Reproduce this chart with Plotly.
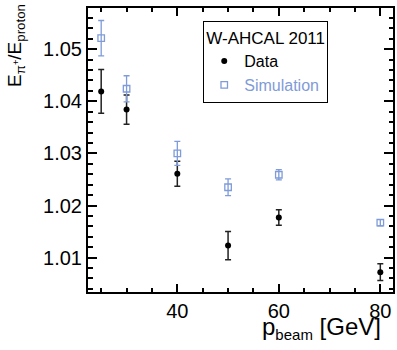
import plotly.graph_objects as go

# ---- data ----
beam_energy = [25, 30, 40, 50, 60, 80]
data_ratio = [1.0419, 1.0384, 1.0261, 1.0123, 1.0177, 1.0072]
data_err = [0.0042, 0.0028, 0.0024, 0.0027, 0.0015, 0.0016]
sim_ratio = [1.0521, 1.0424, 1.0300, 1.0235, 1.0259, 1.0167]
sim_err = [0.0034, 0.0025, 0.0023, 0.0016, 0.0010, 0.0006]
legend_title = "W-AHCAL 2011"
series_names = ["Data", "Simulation"]

FONT = "Liberation Sans, Arial, sans-serif"
SIM_COLOR = "#7f9bd8"

W, H = 397, 350
L, R, T, B = 88, 2, 8, 58
pw, ph = W - L - R, H - T - B


def px_x(p):
    return (p - L) / pw


def px_y(p):
    return 1 - (p - T) / ph


fig = go.Figure()
fig.add_trace(go.Scatter(
    x=beam_energy, y=data_ratio, mode="markers", name=series_names[0],
    marker=dict(symbol="circle", size=6, color="black"),
    error_y=dict(type="data", array=data_err, color="#222222", thickness=1.5, width=3),
))
fig.add_trace(go.Scatter(
    x=beam_energy, y=sim_ratio, mode="markers",
    name=f"<span style='color:{SIM_COLOR}'>{series_names[1]}</span>",
    marker=dict(symbol="square-open", size=6.5, color=SIM_COLOR, line=dict(width=1.3, color=SIM_COLOR)),
    error_y=dict(type="data", array=sim_err, color=SIM_COLOR, thickness=1.3, width=3),
))

axis_common = dict(
    showline=True, linecolor="black", linewidth=2, mirror="allticks",
    ticks="inside", tickcolor="black", tickwidth=1.5,
    showgrid=False, zeroline=False,
    tickfont=dict(family=FONT, size=20, color="black"),
)

fig.update_xaxes(
    range=[22.4, 82.5], tickvals=[40, 60, 80], ticklen=8,
    minor=dict(dtick=5, tick0=0, ticklen=4, tickwidth=1.5, tickcolor="black", ticks="inside", showgrid=False),
    **axis_common,
)
fig.update_yaxes(
    range=[1.0034, 1.0579], dtick=0.01, tick0=1.0, tickformat=".2f", ticklen=9,
    minor=dict(dtick=0.002, tick0=1.0, ticklen=4.5, tickwidth=1.5, tickcolor="black", ticks="inside", showgrid=False),
    **axis_common,
)

fig.update_layout(
    width=W, height=H,
    margin=dict(l=L, r=R, t=T, b=B, pad=0),
    paper_bgcolor="white", plot_bgcolor="white",
    font=dict(family=FONT, color="black"),
    showlegend=True,
    legend=dict(
        title=dict(text=legend_title, font=dict(family=FONT, size=17, color="black")),
        x=px_x(204), y=px_y(21), xanchor="left", yanchor="top",
        bgcolor="white", bordercolor="black", borderwidth=1,
        font=dict(family=FONT, size=16, color="black"),
        tracegroupgap=0, itemsizing="trace",
        entrywidth=150,
    ),
    annotations=[
        dict(
            text="p<sub><span style='font-size:15px'>beam</span></sub> [GeV]", xref="paper", yref="paper",
            x=px_x(385), y=px_y(311), xanchor="right", yanchor="top",
            showarrow=False, font=dict(family=FONT, size=24, color="black"),
        ),
        dict(
            text="E<sub>π<sup>+</sup></sub>/E<sub>proton</sub>", xref="paper", yref="paper",
            x=px_x(15), y=px_y(2), xanchor="center", yanchor="top", textangle=-90,
            showarrow=False, font=dict(family=FONT, size=19, color="black"),
        ),
    ],
)

fig.write_html("out.html")
